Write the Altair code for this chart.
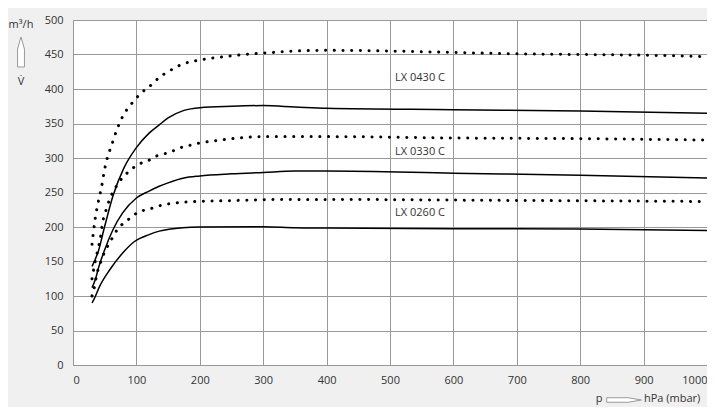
import altair as alt
import pandas as pd

# ---- data ----
# LX 0430 C (dotted, upper)
a_dot_x = [30, 35, 40, 45, 50, 55, 60, 70, 80, 90, 100, 115, 125, 135, 150, 170, 200, 240, 270, 300, 350, 400, 500, 600, 700, 800, 900, 1000]
a_dot_y = [175, 212, 237, 258, 284, 303, 316, 343, 363, 376, 387, 400, 407, 416, 425, 435, 442, 447, 450, 452, 455, 456, 455, 453, 451, 450, 449, 447]
# LX 0430 C (solid)
a_sol_x = [30, 40, 50, 63, 80, 100, 120, 136, 150, 175, 200, 250, 300, 350, 400, 600, 800, 1000]
a_sol_y = [143, 165, 201, 245, 285, 315, 336, 348, 358, 369, 373, 375, 376, 374, 372, 370, 368, 365]
# LX 0330 C (dotted)
b_dot_x = [30, 35, 40, 43, 47, 51, 55, 60, 67, 75, 84, 94, 106, 118, 132, 144, 157, 170, 183, 196, 224, 251, 300, 350, 400, 600, 800, 1000]
b_dot_y = [125, 150, 170, 183, 208, 221, 233, 245, 257, 268, 277, 285, 292, 296, 303, 306, 310, 315, 318, 321, 325, 328, 331, 331, 331, 329, 328, 326]
# LX 0330 C (solid)
b_sol_x = [30, 36, 40, 50, 63, 78, 100, 120, 136, 150, 175, 200, 250, 300, 350, 400, 600, 800, 1000]
b_sol_y = [112, 126, 140, 167, 196, 220, 242, 252, 259, 264, 271, 274, 277, 279, 281, 281, 278, 275, 271]
# LX 0260 C (dotted)
c_dot_x = [30, 34, 37, 44, 49, 55, 62, 69, 79, 89, 102, 115, 128, 141, 155, 169, 197, 238, 300, 350, 400, 600, 800, 1000]
c_dot_y = [100, 114, 129, 150, 162, 173, 184, 195, 205, 212, 221, 225, 228, 232, 234, 235.5, 237, 238, 239.5, 240, 240, 239, 238, 237]
# LX 0260 C (solid)
c_sol_x = [30, 33, 42, 58, 79, 97, 120, 136, 173, 200, 300, 350, 400, 600, 800, 1000]
c_sol_y = [90, 95, 114, 138, 163, 179, 189, 194, 199, 200, 200.5, 199, 198.5, 197.5, 197, 195]

labels = ["LX 0430 C", "LX 0330 C", "LX 0260 C"]
label_x = [508, 508, 508]
label_y = [416, 309, 221]

x_ticks = [0, 100, 200, 300, 400, 500, 600, 700, 800, 900, 1000]
y_ticks = [0, 50, 100, 150, 200, 250, 300, 350, 400, 450, 500]

def frame(name, xs, ys):
    return pd.DataFrame({"series": name, "p": xs, "v": ys, "order": range(len(xs))})

dotted = pd.concat([frame("A", a_dot_x, a_dot_y), frame("B", b_dot_x, b_dot_y), frame("C", c_dot_x, c_dot_y)])
solid = pd.concat([frame("A", a_sol_x, a_sol_y), frame("B", b_sol_x, b_sol_y), frame("C", c_sol_x, c_sol_y)])
lab = pd.DataFrame({"label": labels, "p": label_x, "v": label_y})

FONT = "Open Sans"
xs = alt.Scale(domain=[0, 1000], nice=False)
ys = alt.Scale(domain=[0, 500], nice=False)

x_axis = alt.Axis(values=x_ticks, title=None, grid=True, ticks=False, format="d", labelOverlap=False,
                  labelPadding=9, labelFontSize=11, labelFont=FONT, labelColor="#333",
                  domainColor="#999", gridColor="#999")
y_axis = alt.Axis(values=y_ticks, title=None, grid=True, ticks=False, format="d", labelOverlap=False,
                  labelPadding=10, labelFontSize=11, labelFont=FONT, labelColor="#333",
                  domainColor="#999", gridColor="#999")
x_enc = alt.X("p:Q", scale=xs, axis=x_axis)
y_enc = alt.Y("v:Q", scale=ys, axis=y_axis)

solid_layer = alt.Chart(solid).mark_line(color="black", strokeWidth=1.5, interpolate="monotone").encode(
    x=x_enc, y=y_enc, detail="series:N", order="order:Q")
dotted_layer = alt.Chart(dotted).mark_line(color="black", strokeWidth=3, strokeDash=[0.1, 8.6], strokeCap="round",
                                           interpolate="monotone").encode(
    x=x_enc, y=y_enc, detail="series:N", order="order:Q")
label_layer = alt.Chart(lab).mark_text(align="left", baseline="middle", font=FONT, fontSize=11, color="#333").encode(
    x=x_enc, y=y_enc, text="label:N")

# annotations outside the plot (units / axis arrows)
one = pd.DataFrame({"k": [0]})
def txt(t, x, y, align="center"):
    return alt.Chart(one).mark_text(text=t, align=align, baseline="middle", font=FONT, fontSize=11, color="#333").encode(
        x=alt.value(x), y=alt.value(y))

up_arrow = alt.Chart(one).mark_point(
    shape="M -0.23 1 L 0.23 1 L 0.23 -0.2 L 0 -1 L -0.23 -0.2 Z",
    filled=True, fill="white", stroke="#999", strokeWidth=1, size=900, opacity=1).encode(
    x=alt.value(-52), y=alt.value(32))
right_arrow = alt.Chart(one).mark_point(
    shape="M -1 -0.13 L 0.25 -0.13 L 1 0 L 0.25 0.13 L -1 0.13 Z",
    filled=True, fill="white", stroke="#999", strokeWidth=1, size=1200, opacity=1).encode(
    x=alt.value(551), y=alt.value(380))

chart = alt.layer(
    solid_layer, dotted_layer, label_layer,
    txt("m³/h", -52, 5), up_arrow, txt("V̇", -52, 62),
    txt("p", 526, 379), right_arrow, txt("hPa (mbar)", 571, 379, "left"),
).properties(
    width=634, height=345,
    autosize=alt.AutoSizeParams(type="none"),
    padding={"left": 65, "top": 12, "right": 0, "bottom": 42},
    background="#f0f0f0",
).configure_view(fill="white", stroke="#999")

chart.save("out.html", embed_options={"renderer": "svg", "actions": False})
